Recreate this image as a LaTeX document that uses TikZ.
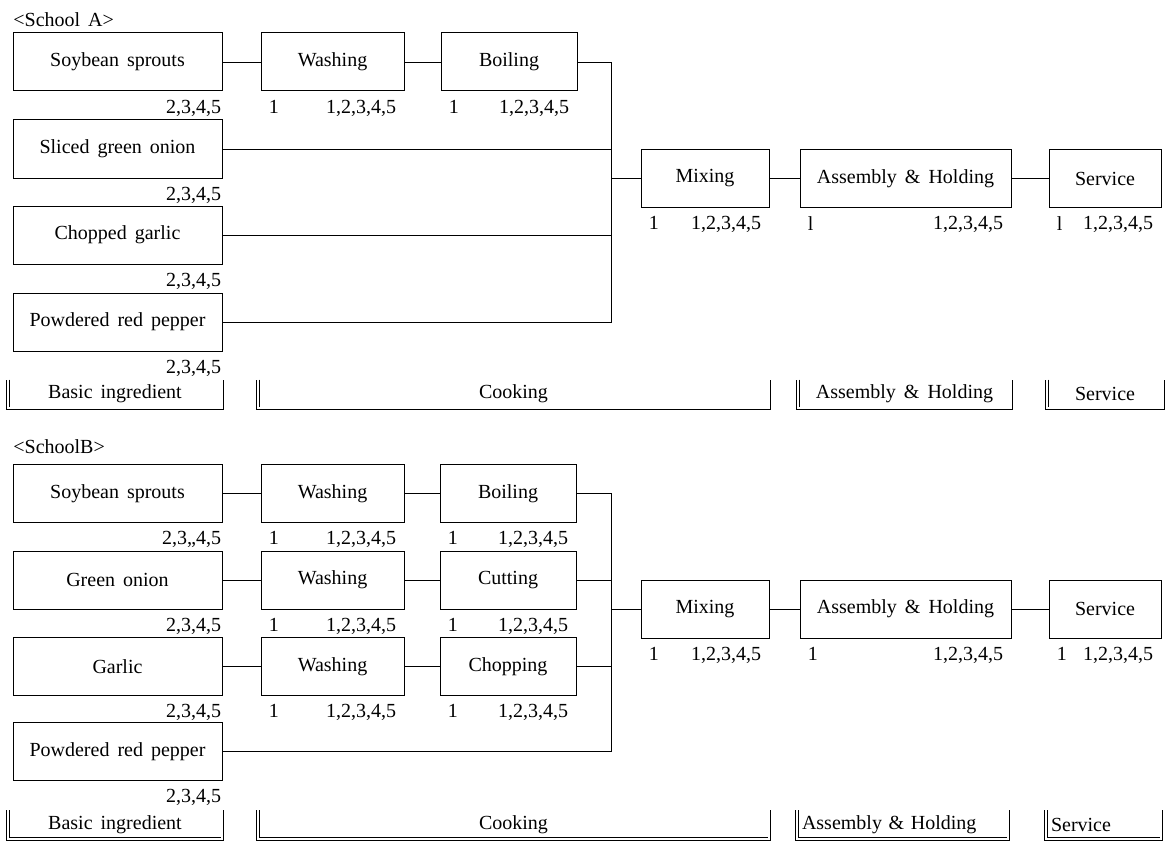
\documentclass[tikz,border=0pt]{standalone}
\usepackage{fontspec}
\setmainfont{Liberation Serif}[WordSpace=1.6]
\usepackage{tikz}
\usetikzlibrary{positioning}

\begin{document}
\begin{tikzpicture}[x=0.5pt, y=-0.5pt,
		box/.style={draw, line width=0.5pt, minimum height=29pt, inner sep=2pt},
		num/.style={inner sep=0pt},
		phase/.style={minimum height=14pt, inner sep=0pt},
		phaseleft/.style={phase, align=left, inner xsep=2.5pt},
		dbl/.style={double, double distance=1pt, line width=0.45pt},
		schoolname/.style={anchor=west, inner sep=0pt}]
	\useasboundingbox (0,0) rectangle (1166,840);

	% School A
	\node[schoolname] (titleA) at (13,20) {<School A>};
	\node[box, minimum width=104.5pt] (ingA1) at (117.5,62) {Soybean sprouts};
	\node[box, minimum width=104.5pt] (ingA2) at (117.5,149) {Sliced green onion};
	\node[box, minimum width=104.5pt] (ingA3) at (117.5,235) {Chopped garlic};
	\node[box, minimum width=104.5pt] (ingA4) at (117.5,322) {Powdered red pepper};
	\node[box, minimum width=71.5pt] (washA) at (332.5,62) {Washing};
	\node[box, minimum width=68pt] (boilA) at (509,62) {Boiling};
	\node[box, minimum width=64pt] (mixA) at (705,178.5) {Mixing};
	\node[box, minimum width=105.5pt] (asmA) at (905.5,178.5) {Assembly \& Holding};
	\node[box, minimum width=56pt] (servA) at (1105,178.5) {Service};
	\coordinate (busA) at (611,0);

	\draw (ingA1) -- (washA) -- (boilA);
	\draw (boilA.east) -| (busA |- ingA4.east) -- (ingA4.east);
	\draw (ingA2.east) -- (ingA2.east -| busA);
	\draw (ingA3.east) -- (ingA3.east -| busA);
	\draw (mixA.west -| busA) -- (mixA) -- (asmA) -- (servA);

	% School B
	\node[schoolname] (titleB) at (13,447) {<SchoolB>};
	\node[box, minimum width=104.5pt] (ingB1) at (117.5,493.5) {Soybean sprouts};
	\node[box, minimum width=104.5pt] (ingB2) at (117.5,580) {Green onion};
	\node[box, minimum width=104.5pt] (ingB3) at (117.5,666.5) {Garlic};
	\node[box, minimum width=104.5pt] (ingB4) at (117.5,751.5) {Powdered red pepper};
	\node[box, minimum width=71.5pt] (washB1) at (332.5,493.5) {Washing};
	\node[box, minimum width=71.5pt] (washB2) at (332.5,580) {Washing};
	\node[box, minimum width=71.5pt] (washB3) at (332.5,666.5) {Washing};
	\node[box, minimum width=68pt] (boilB) at (508,493.5) {Boiling};
	\node[box, minimum width=68pt] (cutB) at (508,580) {Cutting};
	\node[box, minimum width=68pt] (chopB) at (508,666.5) {Chopping};
	\node[box, minimum width=64pt] (mixB) at (705,609) {Mixing};
	\node[box, minimum width=105.5pt] (asmB) at (905.5,609) {Assembly \& Holding};
	\node[box, minimum width=56pt] (servB) at (1105,609) {Service};
	\coordinate (busB) at (611,0);

	\draw (ingB1) -- (washB1) -- (boilB);
	\draw (ingB2) -- (washB2) -- (cutB);
	\draw (ingB3) -- (washB3) -- (chopB);
	\draw (boilB.east) -| (busB |- ingB4.east) -- (ingB4.east);
	\draw (cutB.east) -- (cutB.east -| busB);
	\draw (chopB.east) -- (chopB.east -| busB);
	\draw (mixB.west -| busB) -- (mixB) -- (asmB) -- (servB);

	% numbers under the boxes
	\foreach \b/\t in {ingA1/{2,3,4,5}, ingA2/{2,3,4,5}, ingA3/{2,3,4,5}, ingA4/{2,3,4,5},
			ingB1/{2,3,,4,5}, ingB2/{2,3,4,5}, ingB3/{2,3,4,5}, ingB4/{2,3,4,5}}
		\node[num, below left=4pt and 0.5pt of \b.south east] (\b-r) {\t};
	\foreach \b/\f in {washA/1, boilA/1, mixA/1, asmA/l, servA/l,
			washB1/1, washB2/1, washB3/1, boilB/1, cutB/1, chopB/1, mixB/1, asmB/1, servB/1} {
		\node[num, below right=4pt and 4pt of \b.south west] (\b-l) {\f};
		\node[num, below left=4pt and 4pt of \b.south east] (\b-r) {1,2,3,4,5};
	}

	% phase brackets
	\node[phase, minimum width=107pt] (phA1) at (115,394) {Basic ingredient};
	\node[phase, minimum width=255.5pt] (phA2) at (513.5,394) {Cooking};
	\node[phase, minimum width=106.5pt] (phA3) at (904.5,394) {Assembly \& Holding};
	\node[phase, minimum width=58pt] (phA4) at (1105,394) {Service};
	\node[phase, minimum width=107pt] (phB1) at (115,824.5) {Basic ingredient};
	\node[phase, minimum width=255.5pt] (phB2) at (513.5,824.5) {Cooking};
	\node[phaseleft, text width=100.5pt] (phB3) at (902.5,824.5) {Assembly \& Holding};
	\node[phaseleft, text width=52.5pt] (phB4) at (1103.5,824.5) {Service};
	\foreach \p in {phA1, phA2, phA3, phA4, phB1, phB2, phB3, phB4}
		\draw[dbl] (\p.north west) -- (\p.south west) -- (\p.south east) -- (\p.north east);
\end{tikzpicture}
\end{document}
